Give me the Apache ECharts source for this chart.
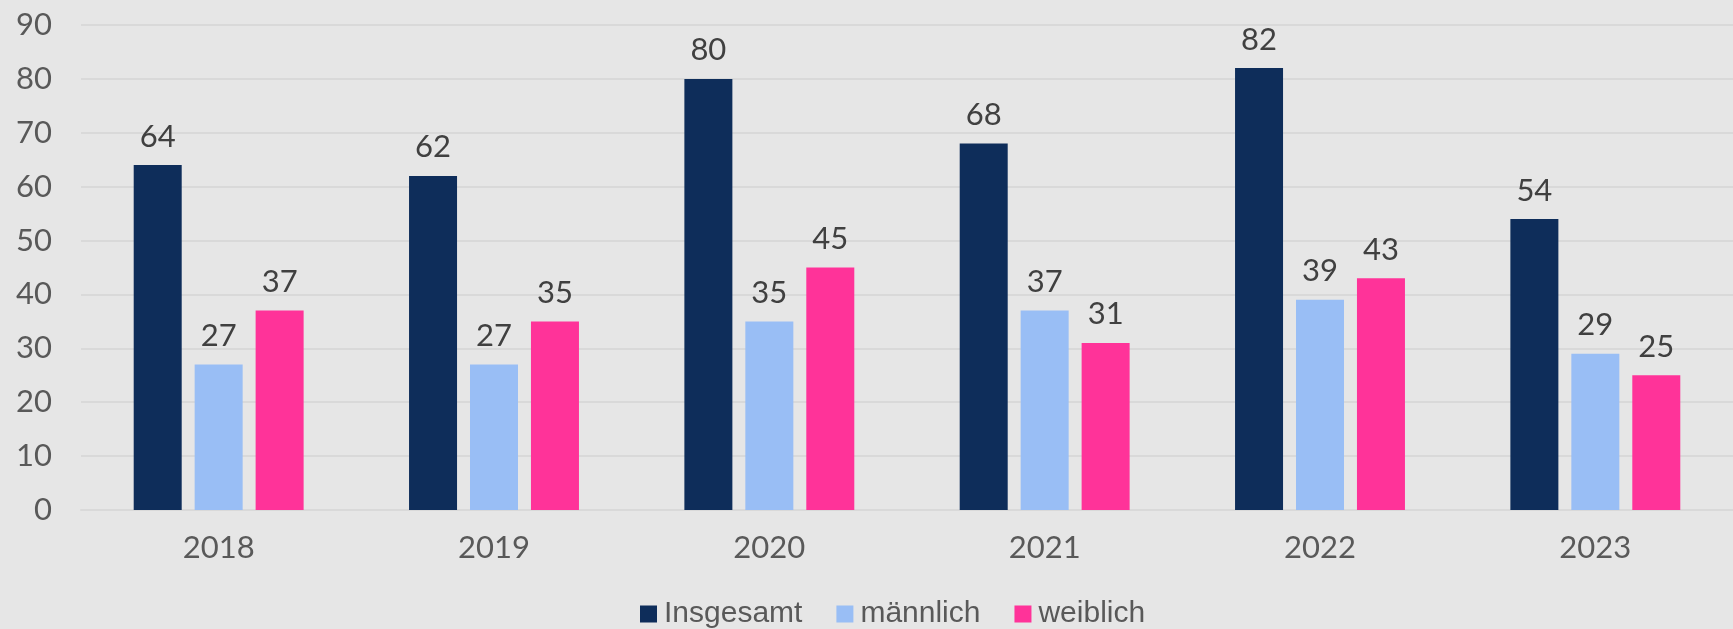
<!DOCTYPE html>
<html>
<head>
<meta charset="utf-8">
<script src="https://cdn.jsdelivr.net/npm/echarts@6/dist/echarts.min.js"></script>
<style>
  html, body { margin: 0; padding: 0; background: #e6e6e6; }
  #chart { width: 1733px; height: 629px; }
</style>
</head>
<body>
<div id="chart"></div>
<script>
var years      = ['2018', '2019', '2020', '2021', '2022', '2023'];
var insgesamt  = [64, 62, 80, 68, 82, 54];
var maennlich  = [27, 27, 35, 37, 39, 29];
var weiblich   = [37, 35, 45, 31, 43, 25];
var seriesNames = ['Insgesamt', 'männlich', 'weiblich'];

var font = 'Lato, "Open Sans", sans-serif';

function makeSeries(name, data, color) {
	return {
		name: name,
		type: 'bar',
		data: data,
		barWidth: 48,
		barGap: '27%',
		itemStyle: { color: color },
		label: {
			show: true,
			position: 'top',
			distance: 13,
			color: '#404040',
			fontFamily: font,
			fontSize: 31
		}
	};
}

var myChart = echarts.init(document.getElementById('chart'));
myChart.setOption({
	backgroundColor: '#e6e6e6',
	animation: false,
	grid: {
		left: 81,
		right: -6,
		top: 25,
		bottom: 119
	},
	legend: {
		top: 594,
		left: 635,
		itemWidth: 17,
		itemHeight: 17,
		itemGap: 34,
		icon: 'rect',
		textStyle: {
			color: '#595959',
			fontFamily: '"Liberation Sans Narrow", "Arial Narrow", "Liberation Sans", sans-serif',
			fontSize: 30,
			padding: [0, 0, 0, 2]
		},
		data: seriesNames
	},
	xAxis: {
		type: 'category',
		data: years,
		axisLine: { lineStyle: { color: '#d9d9d9', width: 2 } },
		axisTick: { show: false },
		axisLabel: {
			color: '#595959',
			fontFamily: font,
			fontSize: 31,
			margin: 22
		}
	},
	yAxis: {
		type: 'value',
		min: 0,
		max: 90,
		interval: 10,
		axisLine: { show: false },
		axisTick: { show: false },
		splitLine: { lineStyle: { color: '#d9d9d9', width: 2 } },
		axisLabel: {
			color: '#595959',
			fontFamily: font,
			fontSize: 31,
			margin: 29
		}
	},
	series: [
		makeSeries(seriesNames[0], insgesamt, '#0e2d5a'),
		makeSeries(seriesNames[1], maennlich, '#99bef5'),
		makeSeries(seriesNames[2], weiblich, '#ff3399')
	]
});
</script>
</body>
</html>
